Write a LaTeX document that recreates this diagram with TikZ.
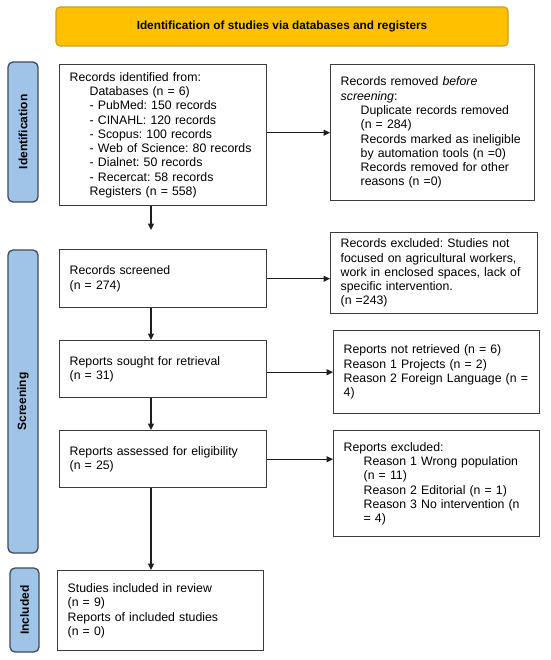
\documentclass[tikz,border=0pt]{standalone}
\usepackage{fontspec}
\setmainfont{Liberation Sans}
\usetikzlibrary{arrows.meta}
\definecolor{sidefill}{RGB}{160,196,232}
\definecolor{sidedraw}{RGB}{62,74,92}
\definecolor{banfill}{RGB}{255,192,0}
\definecolor{bandraw}{RGB}{200,158,40}
\definecolor{boxdraw}{RGB}{60,60,60}
\definecolor{arrcol}{RGB}{30,30,30}
\newcommand{\ind}{\hspace*{20pt}}
\frenchspacing
\tikzset{
  box/.style={draw=boxdraw, line width=1.4pt, fill=white, align=left,
    inner xsep=10pt, inner ysep=0pt, font=\fontsize{12.3}{14.3}\selectfont},
  side/.style={draw=sidedraw, fill=sidefill, line width=1.3pt, rounded corners=5pt,
    rotate=90, inner sep=0pt, font=\fontsize{12}{14}\selectfont\bfseries},
  banner/.style={draw=bandraw, fill=banfill, line width=1.2pt, rounded corners=4pt,
    inner sep=0pt, font=\fontsize{11.8}{14}\selectfont\bfseries},
  arr/.style={draw=arrcol, line width=1.2pt, -{Triangle[length=6.5pt,width=6pt]}}
}
\begin{document}
\begin{tikzpicture}[x=1pt,y=-1pt]
\useasboundingbox (0,0) rectangle (550,660);

\node[banner, minimum width=452pt, minimum height=39pt] (ban) at (282,26.5)
  {Identification of studies via databases and registers};

\node[side, minimum width=140pt, minimum height=30pt] (sid) at (23,132) {Identification};
\node[side, minimum width=303pt, minimum height=30pt] (sscr) at (23,401.5) {Screening};
\node[side, minimum width=84pt, minimum height=29pt] (sinc) at (24.5,610) {Included};

\node[box, anchor=north west, text width=187pt, minimum height=141pt] (b1) at (59,64)
  {Records identified from:\\
   \ind Databases (n = 6)\\
   \ind - PubMed: 150 records\\
   \ind - CINAHL: 120 records\\
   \ind - Scopus: 100 records\\
   \ind - Web of Science: 80 records\\
   \ind - Dialnet: 50 records\\
   \ind - Recercat: 58 records\\
   \ind Registers (n = 558)};

\node[box, anchor=north west, text width=187pt, minimum height=58pt] (b2) at (59,249)
  {Records screened\\(n = 274)};
\node[box, anchor=north west, text width=187pt, minimum height=57pt] (b3) at (59,340)
  {Reports sought for retrieval\\(n = 31)};
\node[box, anchor=north west, text width=187pt, minimum height=57pt] (b4) at (59,430)
  {Reports assessed for eligibility\\(n = 25)};
\node[box, anchor=north west, text width=186pt, minimum height=80pt] (b5) at (57,570)
  {Studies included in review\\(n = 9)\\Reports of included studies\\(n = 0)};

\node[box, anchor=north west, text width=184pt, minimum height=136pt] (r1) at (330,64)
  {Records removed \textit{before}\\
   \textit{screening}:\\
   \ind Duplicate records removed\\
   \ind (n = 284)\\
   \ind Records marked as ineligible\\
   \ind by automation tools (n =0)\\
   \ind Records removed for other\\
   \ind reasons (n =0)};
\node[box, anchor=north west, text width=187pt, minimum height=81pt] (r2) at (330,232)
  {Records excluded: Studies not\\
   focused on agricultural workers,\\
   work in enclosed spaces, lack of\\
   specific intervention.\\
   (n =243)};
\node[box, anchor=north west, text width=186pt, minimum height=83pt] (r3) at (333,330)
  {Reports not retrieved (n = 6)\\
   Reason 1 Projects (n = 2)\\
   Reason 2 Foreign Language (n =\\
   4)};
\node[box, anchor=north west, text width=186pt, minimum height=106pt] (r4) at (333,430)
  {Reports excluded:\\
   \ind Reason 1 Wrong population\\
   \ind (n = 11)\\
   \ind Reason 2 Editorial (n = 1)\\
   \ind Reason 3 No intervention (n\\
   \ind = 4)};

\coordinate (ax) at (151,0);
\draw[arr, shorten >=19pt] (b1.south -| ax) -- (b2.north -| ax);
\draw[arr] (b2.south -| ax) -- (b3.north -| ax);
\draw[arr] (b3.south -| ax) -- (b4.north -| ax);
\draw[arr] (b4.south -| ax) -- (b5.north -| ax);

\draw[arr] (b1.east |- r1.west) -- (r1.west);
\draw[arr] (b2.east) -- (b2.east -| r2.west);
\draw[arr] (b3.east |- r3.west) -- (r3.west);
\draw[arr] (b4.east) -- (b4.east -| r4.west);
\end{tikzpicture}
\end{document}
